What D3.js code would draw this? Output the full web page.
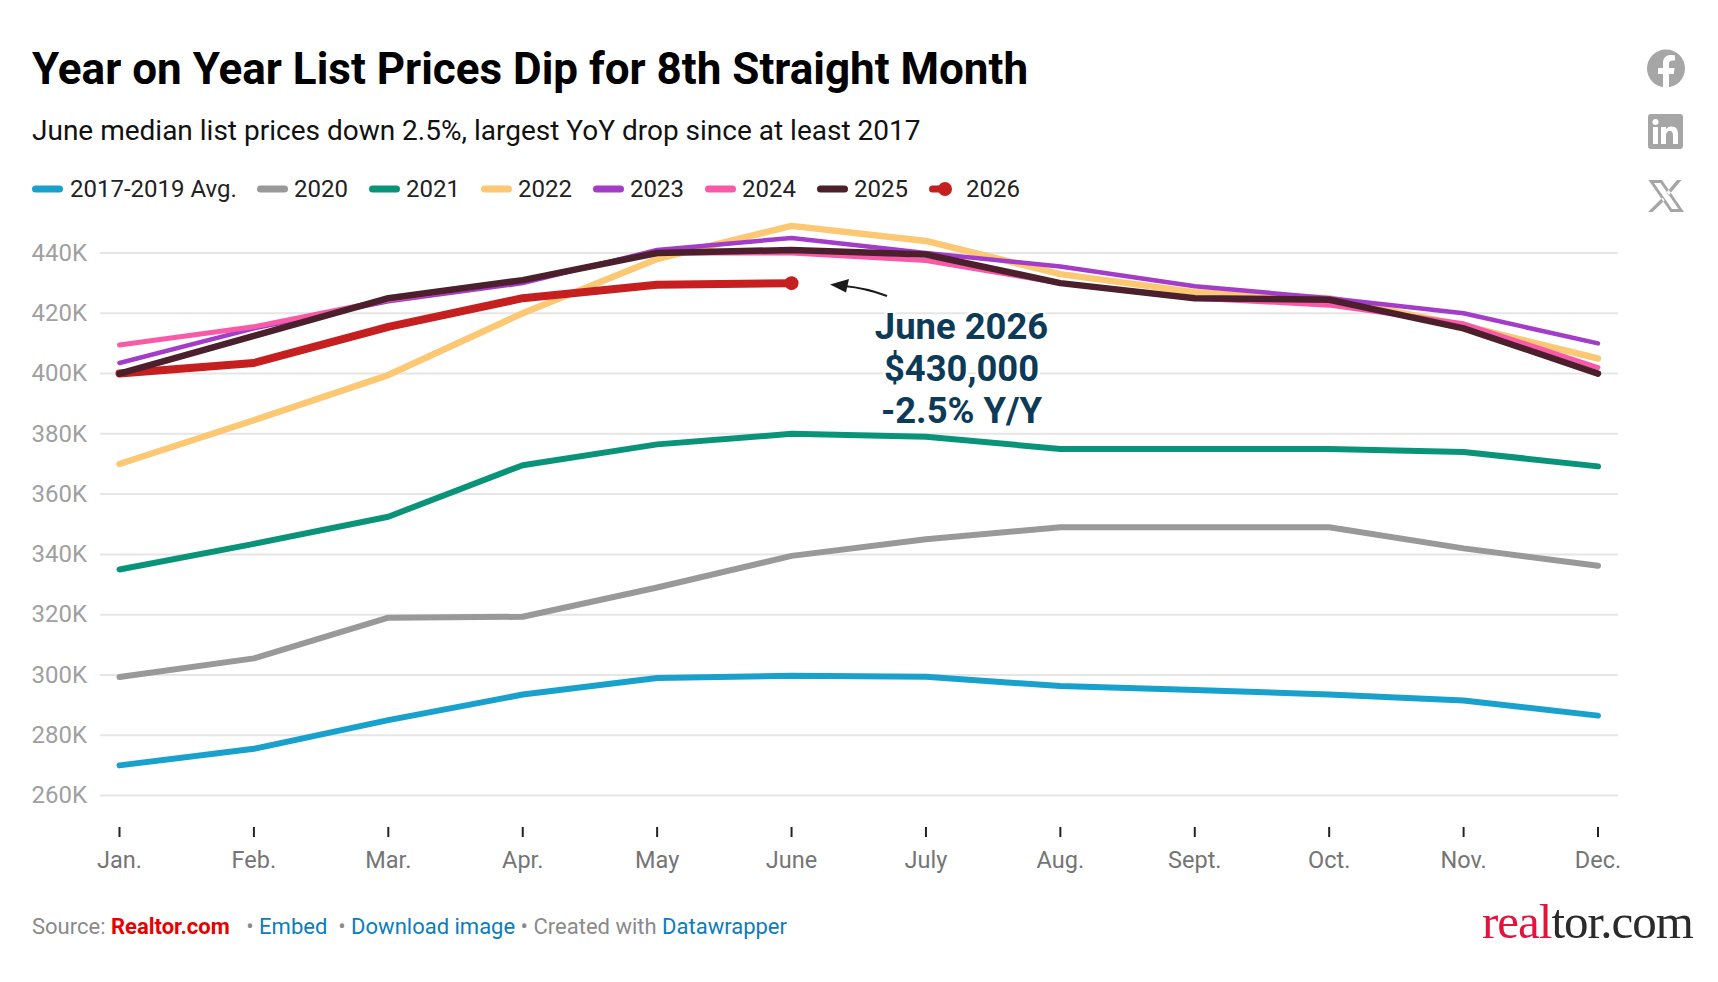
<!DOCTYPE html>
<html>
<head>
<meta charset="utf-8">
<script src="https://cdn.jsdelivr.net/npm/d3@7/dist/d3.min.js"></script>
<style>
  html, body { margin: 0; padding: 0; background: #fff; }
  svg { display: block; font-family: Roboto, sans-serif; }
</style>
</head>
<body>
<svg id="chart" width="1718" height="982"></svg>
<script>
// Median list price by month, in thousands of dollars
const months = ["Jan.", "Feb.", "Mar.", "Apr.", "May", "June", "July", "Aug.", "Sept.", "Oct.", "Nov.", "Dec."];
const yTicks = [260, 280, 300, 320, 340, 360, 380, 400, 420, 440];
const avg1719 = [270, 275.5, 285, 293.5, 299, 299.7, 299.4, 296.3, 295, 293.5, 291.5, 286.5];
const y2020 = [299.3, 305.5, 319, 319.3, 329, 339.5, 345, 349, 349, 349, 342, 336.2];
const y2021 = [335, 343.5, 352.5, 369.6, 376.5, 380, 379, 375, 375, 375, 374, 369.2];
const y2022 = [370, 384.5, 399.5, 420, 438, 449, 444, 433, 427, 425, 416, 405];
const y2023 = [403.5, 415, 424, 430, 441, 445, 440, 435.5, 429, 425, 420, 410];
const y2024 = [409.5, 415.5, 424.5, 431, 440, 440, 437.5, 430, 425, 422.7, 416.5, 402];
const y2025 = [400, 412.5, 425, 431, 440, 441, 439.5, 430, 425, 424.5, 415, 400];
const y2026 = [400, 403.5, 415.5, 425, 429.5, 430];

// Legend order; paint order differs so 2025 sits above 2026
const series = [
  { name: "2017-2019 Avg.", values: avg1719, color: "#18a1cd", width: 6, z: 0 },
  { name: "2020", values: y2020, color: "#999999", width: 6, z: 1 },
  { name: "2021", values: y2021, color: "#09947a", width: 6, z: 2 },
  { name: "2022", values: y2022, color: "#fcc873", width: 6.5, z: 3 },
  { name: "2023", values: y2023, color: "#a33cc8", width: 4.5, z: 4 },
  { name: "2024", values: y2024, color: "#f95aa8", width: 5, z: 5 },
  { name: "2025", values: y2025, color: "#4b1f2c", width: 6.5, z: 7 },
  { name: "2026", values: y2026, color: "#c61f1f", width: 8, z: 6, dot: true }
];

const svg = d3.select("#chart");
const x = d3.scalePoint().domain(months).range([119.5, 1598]);
const y = d3.scaleLinear().domain([260, 440]).range([795.5, 253]);

// Title block
svg.append("text").attr("x", 32).attr("y", 84)
  .attr("font-size", 44).attr("font-weight", 700).attr("fill", "#000")
  .text("Year on Year List Prices Dip for 8th Straight Month");
svg.append("text").attr("x", 32).attr("y", 140)
  .attr("font-size", 28).attr("fill", "#111")
  .text("June median list prices down 2.5%, largest YoY drop since at least 2017");

// Legend row
const legendX = [32, 257, 369, 481, 593, 705, 817, 929];
const legendTextX = [70, 294, 406, 518, 630, 742, 854, 966];
const legend = svg.append("g");
series.forEach((s, i) => {
  legend.append("line")
    .attr("x1", legendX[i] + 3.5).attr("x2", legendX[i] + (s.dot ? 14 : 27.5))
    .attr("y1", 189).attr("y2", 189)
    .attr("stroke", s.color).attr("stroke-width", 7).attr("stroke-linecap", "round");
  if (s.dot) legend.append("circle").attr("cx", legendX[i] + 16).attr("cy", 189).attr("r", 7).attr("fill", s.color);
  legend.append("text").attr("x", legendTextX[i]).attr("y", 197)
    .attr("font-size", 24).attr("fill", "#222").text(s.name);
});

// Horizontal grid and value labels
const yAxis = d3.axisLeft(y).tickValues(yTicks).tickSize(-1518).tickPadding(13).offset(0).tickFormat(d => d + "K");
svg.append("g").attr("transform", "translate(100,0)").call(yAxis)
  .call(g => g.select(".domain").remove())
  .call(g => g.selectAll(".tick line").attr("stroke", "#e6e6e6").attr("stroke-width", 2))
  .call(g => g.selectAll(".tick text").attr("font-family", "Roboto, sans-serif").attr("font-size", 24).attr("fill", "#a0a0a0"));

// Month ticks and labels
const xAxis = d3.axisBottom(x).tickSize(10).tickPadding(14).offset(0);
svg.append("g").attr("transform", "translate(0,827)").call(xAxis)
  .call(g => g.select(".domain").remove())
  .call(g => g.selectAll(".tick line").attr("stroke", "#222").attr("stroke-width", 2))
  .call(g => g.selectAll(".tick text").attr("font-family", "Roboto, sans-serif").attr("font-size", 23.5).attr("fill", "#757575"));

// Series lines
const line = d3.line().x((d, i) => x(months[i])).y(d => y(d));
const plot = svg.append("g");
series.slice().sort((a, b) => a.z - b.z).forEach(s => {
  plot.append("path").datum(s.values)
    .attr("d", line).attr("fill", "none")
    .attr("stroke", s.color).attr("stroke-width", s.width)
    .attr("stroke-linecap", "round").attr("stroke-linejoin", "round");
  if (s.dot) {
    const last = s.values.length - 1;
    plot.append("circle").attr("cx", x(months[last])).attr("cy", y(s.values[last]))
      .attr("r", 7).attr("fill", s.color);
  }
});

// Callout on the latest month
const noteLines = ["June 2026", "$430,000", "-2.5% Y/Y"];
const note = svg.append("g").attr("text-anchor", "middle");
noteLines.forEach((t, i) => {
  note.append("text").attr("x", 961.5).attr("y", 338.5 + i * 42)
    .attr("font-size", 36.4).attr("font-weight", 700).attr("fill", "#0d3a57")
    .attr("stroke", "#fff").attr("stroke-width", 5).attr("paint-order", "stroke")
    .text(t);
});
svg.append("path").attr("d", "M887,296 Q866,288 844,286")
  .attr("fill", "none").attr("stroke", "#1a1a1a").attr("stroke-width", 2.2);
svg.append("path").attr("d", "M830,284.5 L849,279 L846,292.5 Z").attr("fill", "#1a1a1a");

// Share icons
const icons = svg.append("g").attr("fill", "#a6a6a6");
icons.append("circle").attr("cx", 1666).attr("cy", 68.5).attr("r", 19);
icons.append("path").attr("fill", "#fff")
  .attr("d", "M1663,88 L1663,74 L1658,74 L1658,68 L1663,68 L1663,63 C1663,57.5 1666.5,55 1671,55 C1673,55 1675,55.4 1675,55.4 L1675,60.5 L1672.4,60.5 C1670,60.5 1669,62 1669,63.6 L1669,68 L1674.6,68 L1673.7,74 L1669,74 L1669,88 Z");
icons.append("rect").attr("x", 1648).attr("y", 114).attr("width", 35).attr("height", 35).attr("rx", 3);
icons.append("g").attr("fill", "#fff").call(g => {
  g.append("circle").attr("cx", 1655.5).attr("cy", 122).attr("r", 3);
  g.append("rect").attr("x", 1653).attr("y", 127).attr("width", 5).attr("height", 17);
  g.append("path").attr("d", "M1661,127 L1666,127 L1666,129.5 C1667,127.8 1669,126.6 1671.5,126.6 C1676.5,126.6 1678,130 1678,134.5 L1678,144 L1673,144 L1673,135.5 C1673,133 1672.3,131 1669.8,131 C1667.2,131 1666,133 1666,135.5 L1666,144 L1661,144 Z");
});
icons.append("path").attr("fill-rule", "evenodd")
  .attr("d", "M1648.5,180 L1662,180 L1684,212 L1670.5,212 Z M1654,183 L1672,209 L1678.5,209 L1660.5,183 Z M1677,180 L1681.5,180 L1668.5,195.5 L1666.5,192.5 Z M1662.5,197.5 L1664.5,200.5 L1652.5,212 L1648,212 Z");

// Footer credits
const footer = svg.append("text").attr("x", 32).attr("y", 934).attr("font-size", 22).attr("fill", "#8a8a8a");
const credits = [
  ["Source: ", "#8a8a8a", 400],
  ["Realtor.com", "#e60000", 700],
  ["  \u00a0• ", "#8a8a8a", 400],
  ["Embed", "#0a7dbd", 400],
  ["\u00a0 • ", "#8a8a8a", 400],
  ["Download image", "#0a7dbd", 400],
  [" • Created with ", "#8a8a8a", 400],
  ["Datawrapper", "#0a7dbd", 400]
];
credits.forEach(([t, c, w]) => footer.append("tspan").attr("xml:space", "preserve").attr("fill", c).attr("font-weight", w).text(t));

// Brand wordmark
const mark = svg.append("text").attr("x", 1482).attr("y", 938)
  .attr("font-family", "'Liberation Serif', serif").attr("font-size", 49).attr("letter-spacing", -1);
mark.append("tspan").attr("fill", "#e2143c").text("real");
mark.append("tspan").attr("fill", "#2b2b2b").text("tor.com");
</script>
</body>
</html>
